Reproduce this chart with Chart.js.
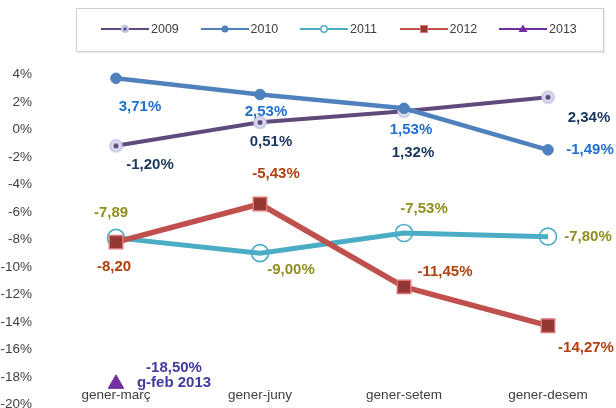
<!DOCTYPE html>
<html>
<head>
<meta charset="utf-8">
<script src="https://cdn.jsdelivr.net/npm/chart.js@4.4.1/dist/chart.umd.min.js"></script>
<style>
  html,body{margin:0;padding:0;background:#fff;}
  #wrap{position:relative;width:616px;height:408px;overflow:hidden;font-family:'Liberation Sans',Arial,sans-serif;}
  #legend{position:absolute;left:76px;top:8px;width:528px;height:44px;box-sizing:border-box;border:1px solid #cfcfcf;box-shadow:1px 1px 1px rgba(0,0,0,.08);}
  .lg-item{position:absolute;top:13px;display:flex;align-items:center;gap:2px;font-size:12.5px;color:#404040;}
</style>
</head>
<body>
<div id="wrap">
  <canvas id="chart" width="620" height="408"></canvas>
  <div id="legend"></div>
</div>
<script>
const categories = ['gener-març','gener-juny','gener-setem','gener-desem'];
const seriesNames = ['2009','2010','2011','2012','2013'];
const v2009 = [-1.20, 0.51, 1.32, 2.34];
const v2010 = [3.71, 2.53, 1.53, -1.49];
const v2011 = [-7.89, -9.00, -7.53, -7.80];
const v2012 = [-8.20, -5.43, -11.45, -14.27];
const v2013 = [-18.50, null, null, null];
const yTicks = [-20,-18,-16,-14,-12,-10,-8,-6,-4,-2,0,2,4];
const extraLabel2013 = 'g-feb 2013';

const lineColors = ['#604a7b','#4f81bd','#4bacc6','#c0504d','#7030a0'];
const labelColors = ['#17375e','#1f70d0','#8f8f1f','#b0410f','#403c9c'];
const font = "'Liberation Sans', Arial, sans-serif";

// 2009 marker: pale ring with dark dot
const m09 = document.createElement('canvas');
m09.width = 15; m09.height = 15;
(() => {
  const c = m09.getContext('2d');
  const g = c.createRadialGradient(7.5,7.5,1,7.5,7.5,7);
  g.addColorStop(0,'#ffffff'); g.addColorStop(1,'#b9b9e2');
  c.fillStyle = g; c.beginPath(); c.arc(7.5,7.5,6.8,0,Math.PI*2); c.fill();
  c.fillStyle = '#604a7b'; c.beginPath(); c.arc(7.5,7.5,2.6,0,Math.PI*2); c.fill();
})();

const fmt = (v, pct=true) => v.toFixed(2).replace('.',',') + (pct ? '%' : '');
const noPct = { '2:0':1, '3:0':1 };

const labelOffsets = [
  [[34,19],[11,20],[9,42],[41,21]],
  [[24,29],[6,17],[7,22],[42,0]],
  [[-5,-25],[31,17],[20,-24],[40,0]],
  [[-2,25],[16,-30],[41,-15],[38,22]],
  [[58,-16],null,null,null]
];

const pointLabels = {
  id:'pointLabels',
  afterDatasetsDraw(chart) {
    const ctx = chart.ctx;
    ctx.save();
    ctx.font = `bold 15px ${font}`;
    ctx.textAlign = 'center'; ctx.textBaseline = 'middle';
    chart.data.datasets.forEach((ds, di) => {
      const meta = chart.getDatasetMeta(di);
      ds.data.forEach((v, i) => {
        if (v == null) return;
        const p = meta.data[i], off = labelOffsets[di][i];
        ctx.fillStyle = labelColors[di];
        ctx.fillText(fmt(v, !noPct[di+':'+i]), p.x + off[0], p.y + off[1]);
        if (di === 4) ctx.fillText(extraLabel2013, p.x + off[0], p.y + off[1] + 15);
      });
    });
    ctx.restore();
  }
};

const values = [v2009, v2010, v2011, v2012, v2013];
const styles = [
  { borderWidth:4, pointStyle:m09, pointRadius:6 },
  { borderWidth:4.5, pointStyle:'circle', pointRadius:5.3, pointBackgroundColor:'#4f81bd', pointBorderColor:'#4f81bd', pointBorderWidth:1 },
  { borderWidth:5, pointStyle:'circle', pointRadius:8.5, pointBackgroundColor:'rgba(0,0,0,0)', pointBorderColor:'#4bacc6', pointBorderWidth:1.6 },
  { borderWidth:5.5, pointStyle:'rect', pointRadius:9.5, pointBackgroundColor:'#953735', pointBorderColor:'#d97777', pointBorderWidth:1.5 },
  { borderWidth:4, pointStyle:'triangle', pointRadius:9, pointBackgroundColor:'#7030a0', pointBorderColor:'#7030a0', pointBorderWidth:1 }
];

new Chart(document.getElementById('chart'), {
  type:'line',
  data:{
    labels:categories,
    datasets: seriesNames.map((n,i) => ({
      label:n, data:values[i], borderColor:lineColors[i], backgroundColor:lineColors[i],
      tension:0, order:5-i, clip:false, ...styles[i]
    }))
  },
  options:{
    responsive:false, animation:false, devicePixelRatio:1,
    layout:{ autoPadding:false, padding:{ top:74.3, left:0, right:0, bottom:3.5 } },
    plugins:{ legend:{display:false}, tooltip:{enabled:false} },
    scales:{
      x:{
        type:'category', offset:true, position:{ y:-18.75 },
        grid:{display:false, drawTicks:false}, border:{display:false},
        afterFit: s => { s.paddingLeft = 0; s.paddingRight = 0; },
        ticks:{ color:'#404040', padding:0, font:{family:font, size:13.5} }
      },
      y:{
        min:-20, max:4,
        grid:{display:false, drawTicks:false}, border:{display:false},
        afterBuildTicks: s => { s.ticks = yTicks.map(v => ({value:v})); },
        afterFit: s => { s.width = 44; s.paddingBottom = 3; },
        ticks:{ color:'#404040', padding:12, font:{family:font, size:13.5}, callback: v => v + '%' }
      }
    }
  },
  plugins:[pointLabels]
});

// html legend
const markSvg = i => {
  const c = lineColors[i];
  const marks = [
    `<circle cx="24" cy="7" r="4" fill="#c3c3e6"/><circle cx="24" cy="7" r="1.6" fill="#604a7b"/>`,
    `<circle cx="24" cy="7" r="3.5" fill="${c}"/>`,
    `<circle cx="24" cy="7" r="3.2" fill="#fff" stroke="${c}" stroke-width="1.4"/>`,
    `<rect x="20.5" y="3.5" width="7" height="7" fill="#953735" stroke="#d97777" stroke-width="1"/>`,
    `<polygon points="24,2.5 28.5,10 19.5,10" fill="${c}"/>`
  ];
  return `<svg width="48" height="14"><line x1="0" y1="7" x2="48" y2="7" stroke="${c}" stroke-width="2.2"/>${marks[i]}</svg>`;
};
document.getElementById('legend').innerHTML = seriesNames.map((n,i) =>
  `<div class="lg-item" style="left:${24 + i*99.5}px">${markSvg(i)}<span>${n}</span></div>`).join('');
</script>
</body>
</html>
